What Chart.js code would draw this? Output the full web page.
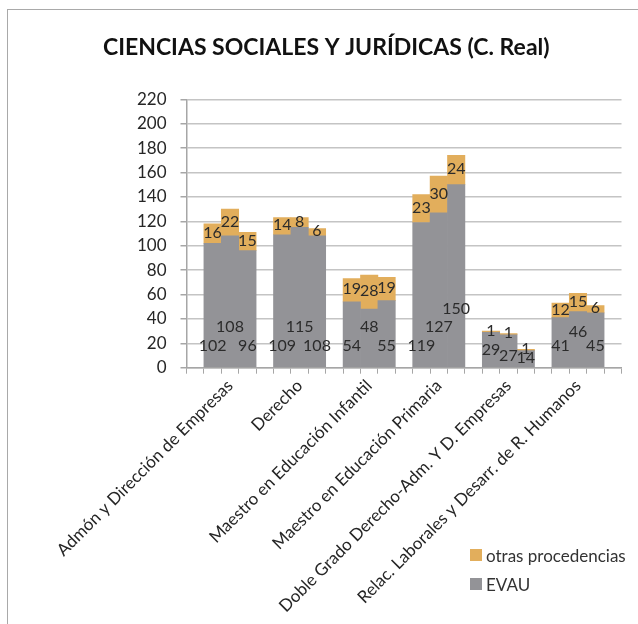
<!DOCTYPE html>
<html>
<head>
<meta charset="utf-8">
<script src="https://cdn.jsdelivr.net/npm/chart.js@4/dist/chart.umd.min.js"></script>
<style>
  html, body { margin: 0; padding: 0; background: #fff; }
  #wrap { position: relative; width: 638px; height: 624px; overflow: hidden; }
  #frame { position: absolute; left: 7px; top: 9px; width: 700px; height: 700px; border: 1.5px solid #a9a9a9; box-sizing: border-box; }
  canvas { position: absolute; left: 0; top: 0; }
  #legend { position: absolute; left: 470px; top: 545px; font-family: Lato, "Open Sans", sans-serif; font-size: 17px; color: #333; }
  .item { display: flex; align-items: center; height: 20px; margin-bottom: 9px; }
  .sw { width: 12px; height: 12px; margin-right: 4px; }
</style>
</head>
<body>
<div id="wrap">
  <div id="frame"></div>
  <canvas id="c" width="638" height="624"></canvas>
  <div id="legend"></div>
</div>
<script>
// ---- data ----
const categories = [
  "Admón y Dirección de Empresas",
  "Derecho",
  "Maestro en Educación Infantil",
  "Maestro en Educación Primaria",
  "Doble Grado Derecho-Adm. Y D. Empresas",
  "Relac. Laborales y Desarr. de R. Humanos"
];
// three consecutive years per degree
const evauYear1 = [102, 109, 54, 119, 29, 41];
const evauYear2 = [108, 115, 48, 127, 27, 46];
const evauYear3 = [96, 108, 55, 150, 14, 45];
const otrasYear1 = [16, 14, 19, 23, 1, 12];
const otrasYear2 = [22, 8, 28, 30, 1, 15];
const otrasYear3 = [15, 6, 19, 24, 1, 6];
const yTicks = [0, 20, 40, 60, 80, 100, 120, 140, 160, 180, 200, 220];
const seriesNames = ["EVAU", "otras procedencias"];

// ---- styling ----
const GRAY = "#939397";
const ORANGE = "#E2AE5C";
const FONT = "Lato, 'Open Sans', sans-serif";
// label lift (px above the base) of the EVAU value labels, per degree and year
const evauLabelLift = [
  [21, 40, 21], [21, 40, 21], [21, 40, 21], [21, 40, 58], [17, 11, 9], [21, 35, 21]
];

// build 25 slots: gap, year1, year2, year3 for each degree, then a final gap
const slotLabels = [], evau = [], otras = [], lift = [];
categories.forEach((cat, i) => {
  slotLabels.push("", "", cat, "");
  evau.push(null, evauYear1[i], evauYear2[i], evauYear3[i]);
  otras.push(null, otrasYear1[i], otrasYear2[i], otrasYear3[i]);
  lift.push(0, evauLabelLift[i][0], evauLabelLift[i][1], evauLabelLift[i][2]);
});
slotLabels.push(""); evau.push(null); otras.push(null); lift.push(0);

const valueLabels = {
  id: "valueLabels",
  afterDatasetsDraw(chart) {
    const ctx = chart.ctx;
    ctx.save();
    ctx.font = "16px " + FONT;
    ctx.fillStyle = "#2b2b2b";
    ctx.textAlign = "center";
    ctx.textBaseline = "middle";
    chart.data.datasets.forEach((ds, di) => {
      const meta = chart.getDatasetMeta(di);
      meta.data.forEach((el, i) => {
        const v = ds.data[i];
        if (v == null) return;
        const y = di === 0 ? el.base - lift[i] : (el.y + el.base) / 2 - 1;
        ctx.fillText(String(v), el.x, y);
      });
    });
    ctx.restore();
  }
};

new Chart(document.getElementById("c"), {
  type: "bar",
  data: {
    labels: slotLabels,
    datasets: [
      { label: seriesNames[0], data: evau, backgroundColor: GRAY, borderWidth: 0 },
      { label: seriesNames[1], data: otras, backgroundColor: ORANGE, borderWidth: 0 }
    ]
  },
  options: {
    responsive: false,
    devicePixelRatio: 1,
    animation: false,
    layout: { padding: { left: 31, right: 16.5, top: 0, bottom: 0 } },
    datasets: { bar: { barPercentage: 1, categoryPercentage: 1 } },
    plugins: {
      legend: { display: false },
      tooltip: { enabled: false },
      title: {
        display: true,
        text: "CIENCIAS SOCIALES Y JURÍDICAS (C. Real)",
        color: "#111",
        font: { family: FONT, size: 23, weight: "bold", lineHeight: 1.2 },
        padding: { top: 34, bottom: 37.7 }
      }
    },
    scales: {
      x: {
        stacked: true,
        afterFit(scale) { scale.height = 256.3; },
        grid: { drawOnChartArea: false, drawTicks: true, tickLength: 6, color: "#a6a6a6", offset: true },
        border: { display: true, color: "#a6a6a6", width: 1.5 },
        ticks: {
          autoSkip: false, maxRotation: 45, minRotation: 45, padding: 2,
          color: "#262626", font: { family: FONT, size: 17 }
        }
      },
      y: {
        stacked: true,
        min: 0, max: 220,
        afterFit(scale) { scale.width = 155.5; },
        afterBuildTicks(scale) { scale.ticks = yTicks.map(v => ({ value: v })); },
        grid: { color: "#c4c4c4", lineWidth: 1.5, tickLength: 6, tickColor: "#a6a6a6" },
        border: { display: true, color: "#a6a6a6", width: 1.5 },
        ticks: { autoSkip: false, padding: 14, color: "#262626", font: { family: FONT, size: 17 } }
      }
    }
  },
  plugins: [valueLabels]
});

// legend (top entry first, as in the reference)
const legend = document.getElementById("legend");
[[seriesNames[1], ORANGE], [seriesNames[0], GRAY]].forEach(([name, col]) => {
  const d = document.createElement("div");
  d.className = "item";
  d.innerHTML = '<span class="sw" style="background:' + col + '"></span><span>' + name + '</span>';
  legend.appendChild(d);
});
</script>
</body>
</html>
